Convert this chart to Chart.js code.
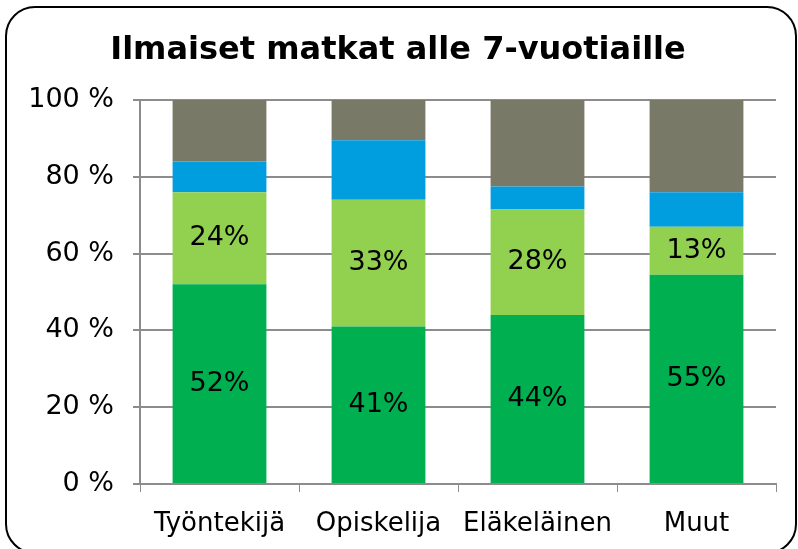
<!DOCTYPE html>
<html><head><meta charset="utf-8">
<script src="https://cdn.jsdelivr.net/npm/chart.js@4"></script>
<style>
html,body{margin:0;padding:0;background:#fff;}
#wrap{position:relative;width:798px;height:549px;overflow:hidden;}
#frame{position:absolute;left:5px;top:6px;width:792px;height:548px;border:2px solid #000;border-radius:30px;box-sizing:border-box;}
canvas{position:absolute;left:0;top:0;}
</style></head>
<body>
<div id="wrap"><div id="frame"></div><canvas id="c" width="798" height="549"></canvas></div>
<script>
const categories = ["Työntekijä", "Opiskelija", "Eläkeläinen", "Muut"];
const seriesDarkGreen = [52, 41, 44, 54.5];
const seriesLightGreen = [24, 33, 27.5, 12.5];
const seriesBlue = [8, 15.5, 6, 9];
const seriesGray = [16, 10.5, 22.5, 24];
const yTicks = [0, 20, 40, 60, 80, 100];
const titleText = "Ilmaiset matkat alle 7-vuotiaille";

const FONT = "'DejaVu Sans', Verdana, sans-serif";

const labelPlugin = {
  id: 'segLabels',
  afterDatasetsDraw(chart) {
    const ctx = chart.ctx;
    ctx.save();
    ctx.font = "27px " + FONT;
    ctx.fillStyle = "#000";
    ctx.textAlign = "center";
    ctx.textBaseline = "middle";
    [0, 1].forEach(di => {
      const meta = chart.getDatasetMeta(di);
      meta.data.forEach((bar, i) => {
        const v = chart.data.datasets[di].data[i];
        const y = (bar.y + bar.base) / 2;
        ctx.fillText(Math.round(v) + "%", bar.x, y);
      });
    });
    ctx.restore();
  }
};

new Chart(document.getElementById('c'), {
  type: 'bar',
  data: {
    labels: categories,
    datasets: [
      { data: seriesDarkGreen, backgroundColor: '#00B050' },
      { data: seriesLightGreen, backgroundColor: '#92D050' },
      { data: seriesBlue, backgroundColor: '#009DDF' },
      { data: seriesGray, backgroundColor: '#797967' }
    ]
  },
  options: {
    responsive: false,
    animation: false,
    devicePixelRatio: 1,
    layout: { padding: { left: 20, right: 22, top: 0, bottom: 0 } },
    datasets: { bar: { categoryPercentage: 1, barPercentage: 0.59 } },
    plugins: {
      legend: { display: false },
      tooltip: { enabled: false },
      title: {
        display: true, text: titleText, color: '#000',
        font: { family: FONT, size: 32, weight: 'bold' },
        padding: { top: 31, bottom: 30.6 }
      }
    },
    scales: {
      x: {
        stacked: true,
        afterFit: s => { s.height = 65; },
        grid: { drawOnChartArea: false, color: '#8c8c8c', tickLength: 8, offset: true },
        border: { color: '#8c8c8c', width: 2 },
        ticks: { color: '#000', font: { family: FONT, size: 26 }, padding: 17,
          maxRotation: 0, minRotation: 0, autoSkip: false }
      },
      y: {
        stacked: true, min: 0, max: 100,
        afterBuildTicks: s => { s.ticks = yTicks.map(v => ({ value: v })); },
        afterFit: s => { s.width = 120; },
        grid: { color: '#8c8c8c', lineWidth: 2, tickLength: 7 },
        border: { color: '#8c8c8c', width: 2 },
        ticks: { color: '#000', font: { family: FONT, size: 27 }, padding: 19,
          callback: v => v + " %" }
      }
    }
  },
  plugins: [labelPlugin]
});
</script>
</body></html>
